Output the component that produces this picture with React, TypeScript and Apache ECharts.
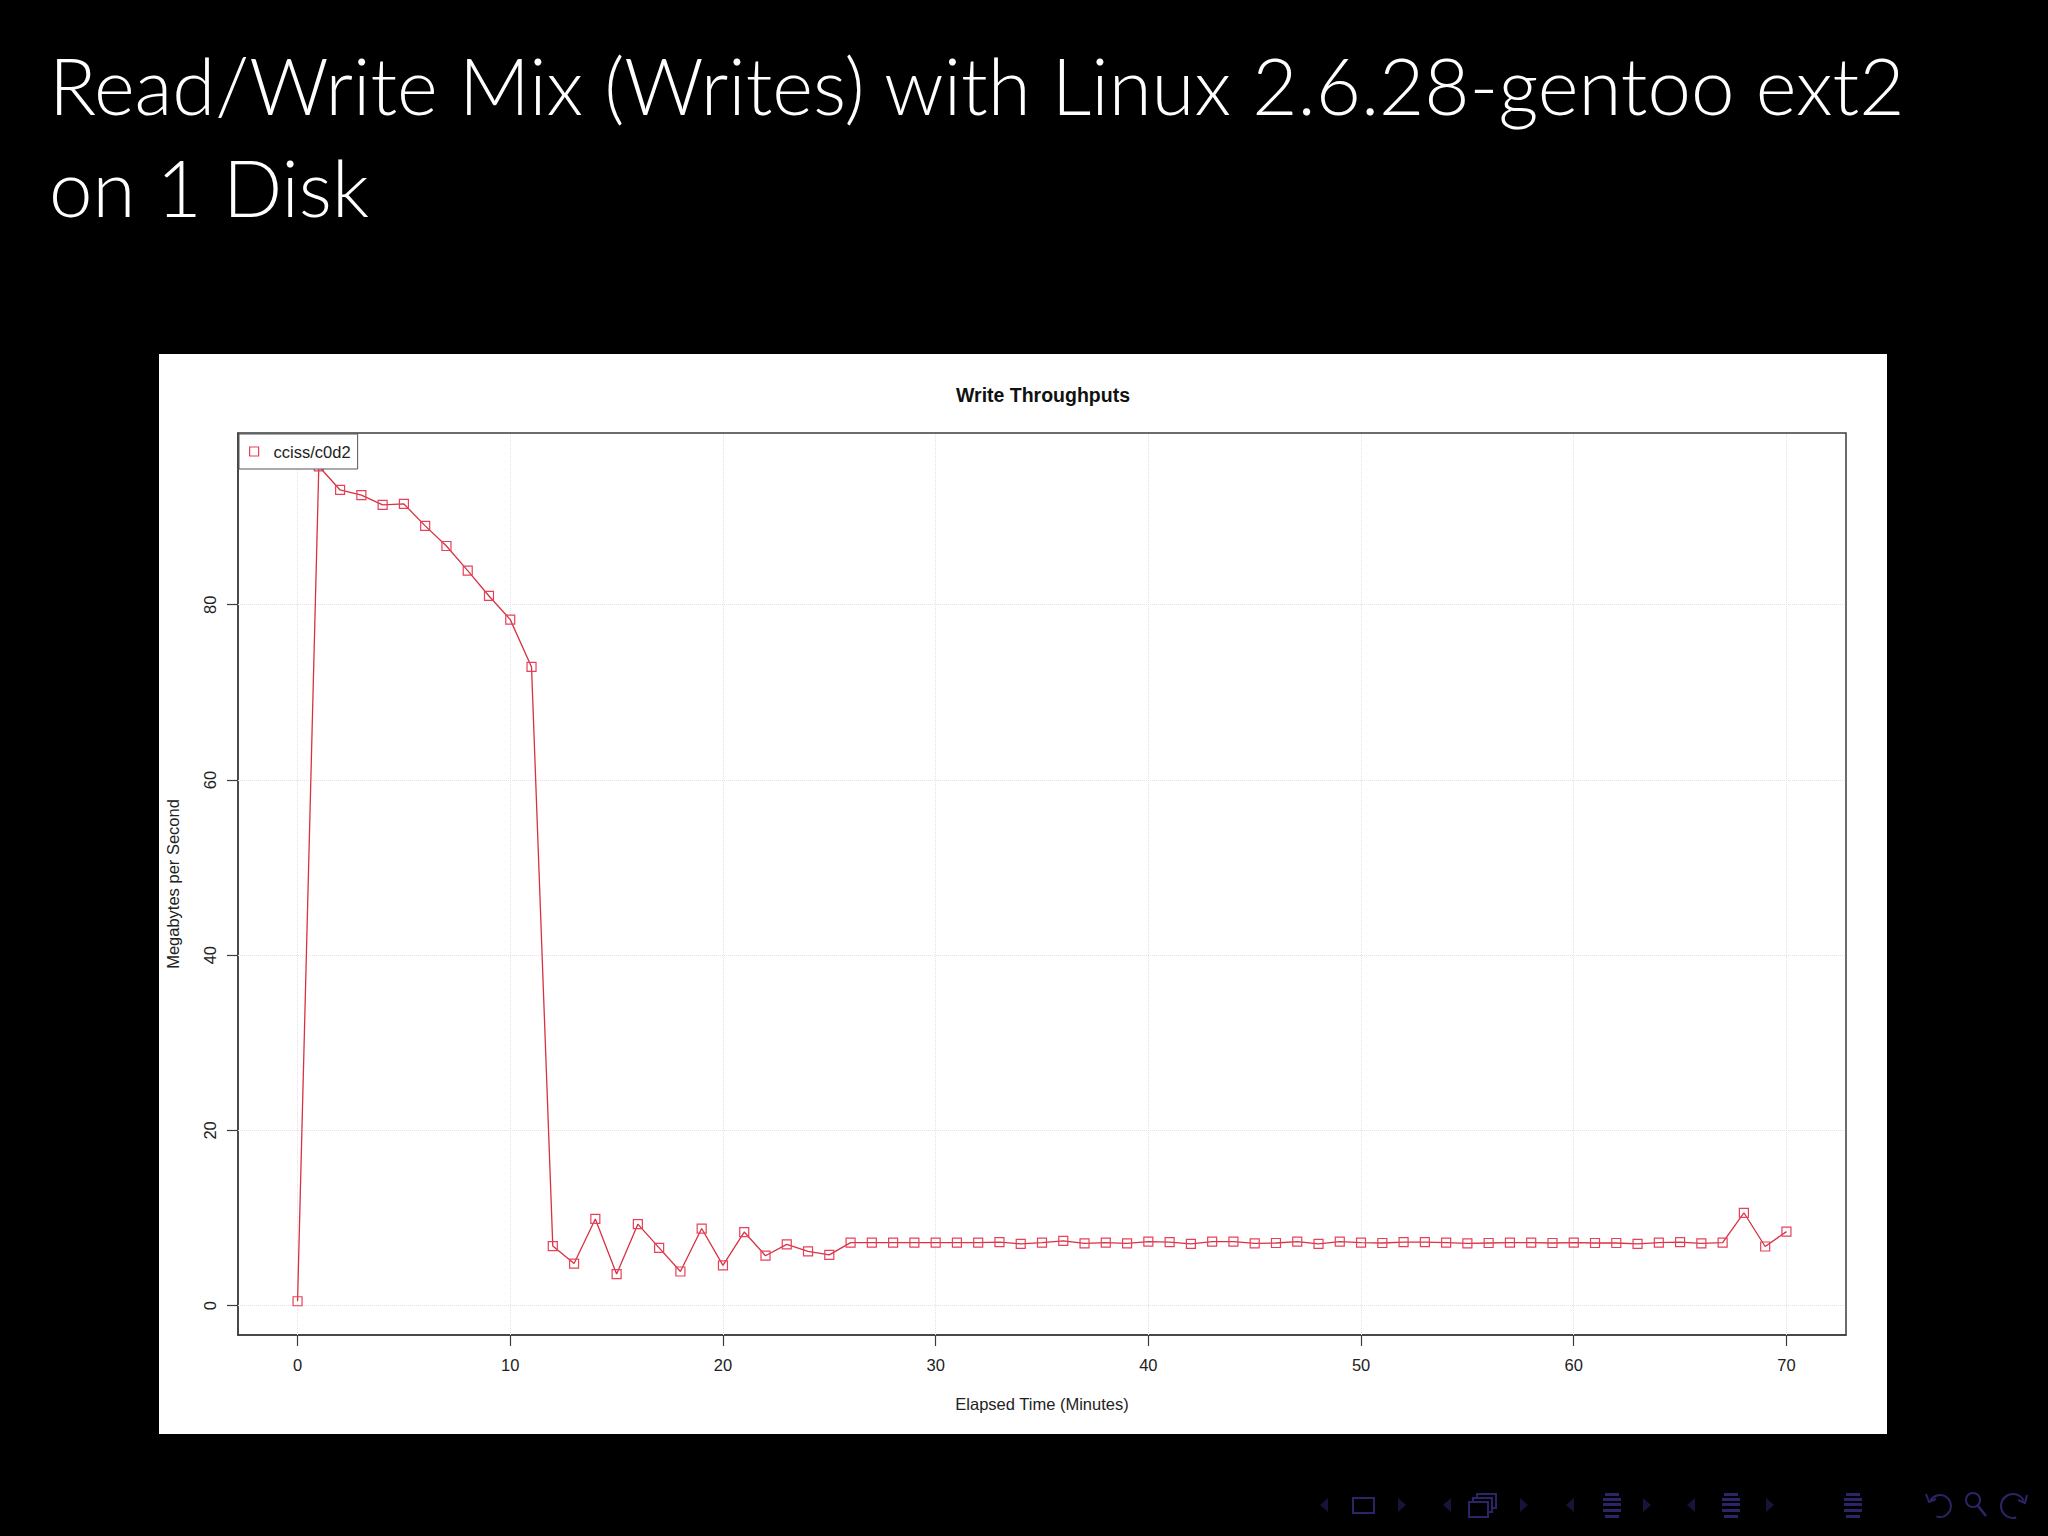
import React, { useEffect, useRef } from "react";
import * as echarts from "echarts";

const SLIDE_TITLE_1 = "Read/Write Mix (Writes) with Linux 2.6.28-gentoo ext2";
const SLIDE_TITLE_2 = "on 1 Disk";
const CHART_TITLE = "Write Throughputs";
const SERIES_NAME = "cciss/c0d2";
const X_NAME = "Elapsed Time (Minutes)";
const Y_NAME = "Megabytes per Second";

const minutes = [
  0, 1, 2, 3, 4, 5, 6, 7, 8, 9, 10, 11, 12, 13, 14, 15, 16, 17, 18, 19, 20,
  21, 22, 23, 24, 25, 26, 27, 28, 29, 30, 31, 32, 33, 34, 35, 36, 37, 38, 39, 40,
  41, 42, 43, 44, 45, 46, 47, 48, 49, 50, 51, 52, 53, 54, 55, 56, 57, 58, 59, 60,
  61, 62, 63, 64, 65, 66, 67, 68, 69, 70,
];
const throughput = [
  0.5, 95.8, 93.1, 92.5, 91.4, 91.5, 89.0, 86.7, 83.9, 81.0, 78.3, 72.9, 6.8, 4.8, 9.9, 3.6, 9.3, 6.6, 3.9, 8.8, 4.6,
  8.4, 5.7, 7.0, 6.2, 5.8, 7.2, 7.2, 7.2, 7.2, 7.2, 7.2, 7.2, 7.25, 7.05, 7.2, 7.4, 7.1, 7.2, 7.1, 7.3,
  7.25, 7.05, 7.3, 7.3, 7.1, 7.15, 7.3, 7.05, 7.3, 7.2, 7.15, 7.25, 7.25, 7.2, 7.1, 7.15, 7.2, 7.2, 7.15, 7.2,
  7.15, 7.15, 7.05, 7.2, 7.25, 7.1, 7.2, 10.6, 6.75, 8.45,
];
const xTicks = [0, 10, 20, 30, 40, 50, 60, 70];
const yTicks = [0, 20, 40, 60, 80];

const X_MIN = -2.8;
const X_MAX = 72.8;
const Y_MIN = -3.35;
const Y_MAX = 99.6;

const NAV_DARK = "#17143a";
const NAV = "#2b2568";

function tri(x: number, y: number, dir: number) {
  return {
    type: "polygon",
    shape: { points: [[x - 4 * dir, y - 7], [x + 4 * dir, y], [x - 4 * dir, y + 7]] },
    style: { fill: NAV_DARK },
  };
}
function bars(x: number, widths: number[]) {
  const ys = [1493, 1498, 1503, 1509, 1515];
  return ys.map((y, i) => ({
    type: "rect",
    shape: { x: x + (22 - widths[i]) / 2, y, width: widths[i], height: 3 },
    style: { fill: NAV },
  }));
}

export default function App() {
  const ref = useRef<HTMLDivElement>(null);
  useEffect(() => {
    if (!ref.current) return;
    const chart = echarts.init(ref.current, undefined, { renderer: "svg" });
    const font = "Liberation Sans";
    const fs = 16.5;
    const data = minutes.map((m, i) => [m, throughput[i]]);
    const gridStyle = { color: "#e2e2ec", type: "dotted" as const, width: 1 };
    chart.setOption({
      animation: false,
      backgroundColor: "#000000",
      title: {
        text: CHART_TITLE,
        left: 1038,
        top: 380,
        textAlign: "center",
        textStyle: { fontFamily: font, fontWeight: "bold", fontSize: 19.5, color: "#111" },
      },
      legend: {
        left: 239,
        top: 434,
        orient: "vertical",
        padding: [9, 7, 9, 10],
        backgroundColor: "#ffffff",
        borderColor: "#555555",
        borderWidth: 1,
        itemWidth: 9,
        itemHeight: 9,
        textStyle: { fontFamily: font, fontSize: fs, color: "#222", padding: [0, 0, 0, 10] },
        data: [
          {
            name: SERIES_NAME,
            icon: "rect",
            itemStyle: { color: "rgba(0,0,0,0)", borderColor: "#e8405a", borderWidth: 1.2 },
          },
        ],
      },
      grid: {
        left: 238,
        top: 433,
        width: 1608,
        height: 902,
        show: true,
        borderColor: "#3c3c3c",
        borderWidth: 1.5,
        backgroundColor: "#ffffff",
      },
      xAxis: {
        type: "value",
        min: X_MIN,
        max: X_MAX,
        name: X_NAME,
        nameLocation: "middle",
        nameGap: 60,
        nameTextStyle: { fontFamily: font, fontSize: fs, color: "#222" },
        axisLine: { show: true, onZero: false, lineStyle: { color: "#3c3c3c", width: 1.5 } },
        axisTick: { show: true, length: 11, lineStyle: { color: "#3c3c3c", width: 1.2 }, customValues: xTicks },
        axisLabel: { customValues: xTicks, margin: 21, fontFamily: font, fontSize: fs, color: "#222" },
        splitLine: { show: false },
      },
      yAxis: {
        type: "value",
        min: Y_MIN,
        max: Y_MAX,
        name: Y_NAME,
        nameLocation: "middle",
        nameRotate: 90,
        nameGap: 57,
        nameTextStyle: { fontFamily: font, fontSize: fs, color: "#222" },
        axisLine: { show: true, onZero: false, lineStyle: { color: "#3c3c3c", width: 1.5 } },
        axisTick: { show: true, length: 11, lineStyle: { color: "#3c3c3c", width: 1.2 }, customValues: yTicks },
        axisLabel: { customValues: yTicks, rotate: 90, margin: 20, fontFamily: font, fontSize: fs, color: "#222" },
        splitLine: { show: false },
      },
      graphic: [
        {
          type: "rect",
          z: -10,
          shape: { x: 159, y: 354, width: 1728, height: 1080 },
          style: { fill: "#ffffff" },
        },
        {
          type: "text",
          x: 49,
          y: 85,
          style: { text: SLIDE_TITLE_1, fill: "#ffffff", font: "300 78px Lato", verticalAlign: "middle" },
        },
        {
          type: "text",
          x: 49,
          y: 187,
          style: { text: SLIDE_TITLE_2, fill: "#ffffff", font: "300 78px Lato", verticalAlign: "middle" },
        },
        tri(1324, 1505, -1),
        { type: "rect", shape: { x: 1353, y: 1498, width: 21, height: 15 }, style: { fill: "none", stroke: NAV, lineWidth: 2 } },
        tri(1402, 1505, 1),
        tri(1447, 1505, -1),
        { type: "rect", shape: { x: 1477, y: 1494, width: 19, height: 14 }, style: { fill: "#000", stroke: NAV, lineWidth: 2 } },
        { type: "rect", shape: { x: 1473, y: 1498, width: 19, height: 14 }, style: { fill: "#000", stroke: NAV, lineWidth: 2 } },
        { type: "rect", shape: { x: 1469, y: 1502, width: 19, height: 15 }, style: { fill: "#000", stroke: NAV, lineWidth: 2 } },
        tri(1524, 1505, 1),
        tri(1570, 1505, -1),
        ...bars(1601, [14, 18, 18, 18, 14]),
        tri(1647, 1505, 1),
        tri(1691, 1505, -1),
        ...bars(1720, [14, 18, 18, 18, 14]),
        tri(1770, 1505, 1),
        ...bars(1842, [14, 18, 18, 18, 14]),
        { type: "arc", shape: { cx: 1940, cy: 1506, r: 11, startAngle: -2.6, endAngle: 1.9 }, style: { stroke: NAV, lineWidth: 2, fill: "none" } },
        { type: "polyline", shape: { points: [[1926, 1494], [1929, 1502], [1936, 1499]] }, style: { stroke: NAV, lineWidth: 2, fill: "none" } },
        { type: "circle", shape: { cx: 1973, cy: 1500, r: 7 }, style: { stroke: NAV, lineWidth: 2, fill: "none" } },
        { type: "line", shape: { x1: 1978, y1: 1506, x2: 1986, y2: 1516 }, style: { stroke: NAV, lineWidth: 2.5 } },
        { type: "arc", shape: { cx: 2013, cy: 1506, r: 12, startAngle: 1.3, endAngle: 5.8, clockwise: true }, style: { stroke: NAV, lineWidth: 2, fill: "none" } },
        { type: "polyline", shape: { points: [[2018, 1500], [2025, 1503], [2027, 1495]] }, style: { stroke: NAV, lineWidth: 2, fill: "none" } },
      ],
      series: [
        {
          name: SERIES_NAME,
          type: "line",
          data,
          symbol: "rect",
          symbolSize: 9,
          showSymbol: true,
          itemStyle: { color: "rgba(0,0,0,0)", borderColor: "#e8405a", borderWidth: 1.2 },
          lineStyle: { color: "#d63242", width: 1.3 },
          emphasis: { disabled: true },
          markLine: {
            silent: true,
            symbol: "none",
            label: { show: false },
            lineStyle: gridStyle,
            z: 1,
            data: [
              ...xTicks.map((v) => ({ xAxis: v })),
              ...yTicks.map((v) => ({ yAxis: v })),
            ],
          },
        },
      ],
    });
    return () => chart.dispose();
  }, []);
  return (
    <div
      ref={ref}
      style={{ position: "absolute", left: 0, top: 0, width: 2048, height: 1536 }}
    />
  );
}
